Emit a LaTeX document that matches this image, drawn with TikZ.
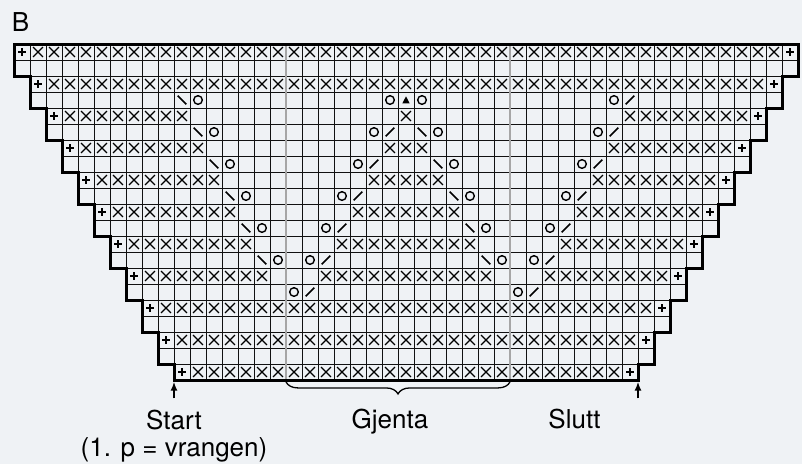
\documentclass[tikz,border=0pt]{standalone}
\usepackage{fontspec}
\setmainfont{TeX Gyre Heros}
\usetikzlibrary{arrows.meta,decorations.pathreplacing}
\definecolor{chartbg}{HTML}{EFF2F5}
\definecolor{repgray}{HTML}{A6A6A6}
\definecolor{inkblack}{HTML}{111111}

\tikzset{
  cellline/.style={inkblack, line width=1pt},
  repline/.style={repgray, line width=2.5pt},
  edgeline/.style={black, line width=3pt, line join=miter},
  symb/.style={black, line width=1.3pt},
  tickarrow/.style={black, line width=1.9pt, -{Latex[length=9pt,width=7pt]}},
  repbrace/.style={black, line width=1.3pt, decorate, decoration={brace, amplitude=12pt}},
  lbl/.style={font=\fontsize{26}{30}\selectfont, text=black, inner sep=0pt},
  kx/.pic={\draw[symb] (-0.31,-0.31) -- (0.31,0.31) (-0.31,0.31) -- (0.31,-0.31);},
  kplus/.pic={\draw[symb, line width=1.9pt] (-0.22,0) -- (0.22,0) (0,-0.22) -- (0,0.22);},
  kyo/.pic={\draw[symb, line width=1.4pt] (0,0) circle (0.27);},
  kbs/.pic={\draw[symb, line width=1.7pt] (-0.27,-0.27) -- (0.27,0.27);},
  ksl/.pic={\draw[symb, line width=1.7pt] (-0.27,0.27) -- (0.27,-0.27);},
  ktri/.pic={\fill[black] (-0.23,0.21) -- (0.23,0.21) -- (0,-0.23) -- cycle;}
}

\begin{document}
\begin{tikzpicture}[x=16pt, y=-16pt]

  % Background and page size
  \fill[chartbg] (-0.875,-2.75) rectangle (49.25,26.25);
  \useasboundingbox (-0.875,-2.75) rectangle (49.25,26.25);

  % Cell lines, row by row (two rows per step)
  \foreach \r in {0,...,20} {
    \pgfmathtruncatemacro{\lo}{floor(\r/2)}
    \pgfmathtruncatemacro{\hi}{49-\lo}
    \draw[cellline] (\lo,\r+1) -- (\hi,\r+1);
    \foreach \c in {\lo,...,\hi}
      \draw[cellline] (\c,\r) -- (\c,\r+1);
  }

  % Repeat lines
  \foreach \c in {17,31}
    \draw[repline] (\c,0) -- (\c,21);

  % Crosses: row / first col / last col
  \foreach \r/\a/\b in {
    0/1/47, 2/2/46,
    4/3/10, 4/24/24, 4/38/45,
    6/4/11, 6/23/25, 6/37/44,
    8/5/12, 8/22/26, 8/36/43,
    10/6/13, 10/21/27, 10/35/42,
    12/7/14, 12/20/28, 12/34/41,
    14/8/15, 14/19/29, 14/33/40,
    16/9/39, 18/10/38, 20/11/37
  } {
    \foreach \c in {\a,...,\b}
      \pic at (\c+0.5,\r+0.5) {kx};
  }

  % Edge stitches
  \foreach \k in {0,...,10} {
    \pic at (\k+0.5,2*\k+0.5) {kplus};
    \pic at (48.5-\k,2*\k+0.5) {kplus};
  }

  % Backslash + circle: row / col of backslash
  \foreach \r/\c in {3/10, 5/11, 7/12, 9/13, 11/14, 13/15, 5/25, 7/26, 9/27, 11/28, 13/29} {
    \pic at (\c+0.5,\r+0.5) {kbs};
    \pic at (\c+1.5,\r+0.5) {kyo};
  }

  % Circle + slash: row / col of circle
  \foreach \r/\c in {5/22, 7/21, 9/20, 11/19, 13/18, 15/17, 15/31, 3/37, 5/36, 7/35, 9/34, 11/33, 13/32} {
    \pic at (\c+0.5,\r+0.5) {kyo};
    \pic at (\c+1.5,\r+0.5) {ksl};
  }

  % Top point
  \pic at (23.5,3.5) {kyo};
  \pic at (24.5,3.5) {ktri};
  \pic at (25.5,3.5) {kyo};

  % Outline
  \draw[edgeline] (0,0) -- (49,0)
    \foreach \k in {0,...,9} { -- ({49-\k},{2*\k+2}) -- ({48-\k},{2*\k+2}) }
    -- (39,21) -- (10,21)
    \foreach \k in {10,...,1} { -- (\k,{2*\k}) -- ({\k-1},{2*\k}) } -- cycle;

  % Start and end arrows
  \coordinate (startcorner) at (10,21.1);
  \coordinate (startfoot) at (10,22.15);
  \coordinate (endcorner) at (39,21.1);
  \coordinate (endfoot) at (39,22.15);
  \draw[tickarrow] (startfoot) -- (startcorner);
  \draw[tickarrow] (endfoot) -- (endcorner);

  % Repeat brace
  \coordinate (repleft) at (17,21.12);
  \coordinate (repright) at (31,21.12);
  \draw[repbrace] (repright) -- (repleft);

  % Labels
  \node[lbl, anchor=base west] (chartid) at (-0.15,-0.81) {B};
  \node[lbl, anchor=base] (startlbl) at (10,24.1) {Start};
  \node[lbl, anchor=base] (startnote) at (10,25.8) {(1. p = vrangen)};
  \node[lbl, anchor=base] (repeatlbl) at (23.5,24.06) {Gjenta};
  \node[lbl, anchor=base] (sluttlbl) at (35.03,24.06) {Slutt};

\end{tikzpicture}
\end{document}
